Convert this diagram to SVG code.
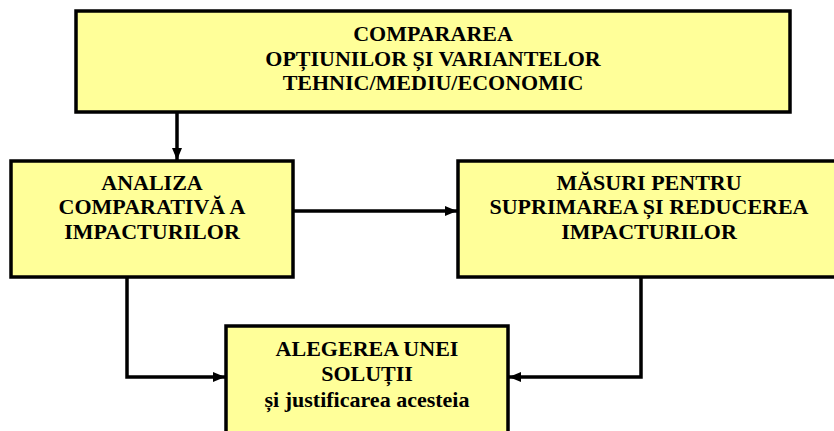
<svg xmlns="http://www.w3.org/2000/svg" width="834" height="431" viewBox="0 0 834 431">
<style>
.box{fill:#FFFF99;stroke:#000;stroke-width:3.5}
.t{font-family:'Liberation Serif','Times New Roman','DejaVu Serif',serif;font-weight:700;font-size:22px;fill:#000;text-anchor:middle}
.c{fill:none;stroke:#000;stroke-width:3.5}
</style>
<defs>
<marker id="ah" markerWidth="12" markerHeight="10" refX="12" refY="5" orient="auto" markerUnits="userSpaceOnUse">
<path d="M0,0 L12,5 L0,10 Z" fill="#000"/>
</marker>
</defs>
<rect width="834" height="431" fill="#fff"/>
<g id="connectors">
<path class="c" d="M177,112 V160" marker-end="url(#ah)"/>
<path class="c" d="M293,211 H457" marker-end="url(#ah)"/>
<path class="c" d="M127,277 V377 H225" marker-end="url(#ah)"/>
<path class="c" d="M641,277 V377 H509" marker-end="url(#ah)"/>
</g>
<g id="node-comparare">
<rect class="box" x="76" y="11" width="714" height="101"/>
<text class="t" x="433" y="41">COMPARAREA</text>
<text class="t" x="433" y="65.5">OPȚIUNILOR ȘI VARIANTELOR</text>
<text class="t" x="433" y="90">TEHNIC/MEDIU/ECONOMIC</text>
</g>
<g id="node-analiza">
<rect class="box" x="11" y="161" width="282" height="116"/>
<text class="t" x="152" y="189.5">ANALIZA</text>
<text class="t" x="152" y="214">COMPARATIVĂ A</text>
<text class="t" x="152" y="239">IMPACTURILOR</text>
</g>
<g id="node-masuri">
<rect class="box" x="458" y="161" width="390" height="116"/>
<text class="t" x="649" y="189.5">MĂSURI PENTRU</text>
<text class="t" x="649" y="214">SUPRIMAREA ȘI REDUCEREA</text>
<text class="t" x="649" y="239">IMPACTURILOR</text>
</g>
<g id="node-alegere">
<rect class="box" x="226" y="326" width="282" height="120"/>
<text class="t" x="367" y="356">ALEGEREA UNEI</text>
<text class="t" x="367" y="381">SOLUȚII</text>
<text class="t" x="367" y="406.5">și justificarea acesteia</text>
</g>
</svg>
